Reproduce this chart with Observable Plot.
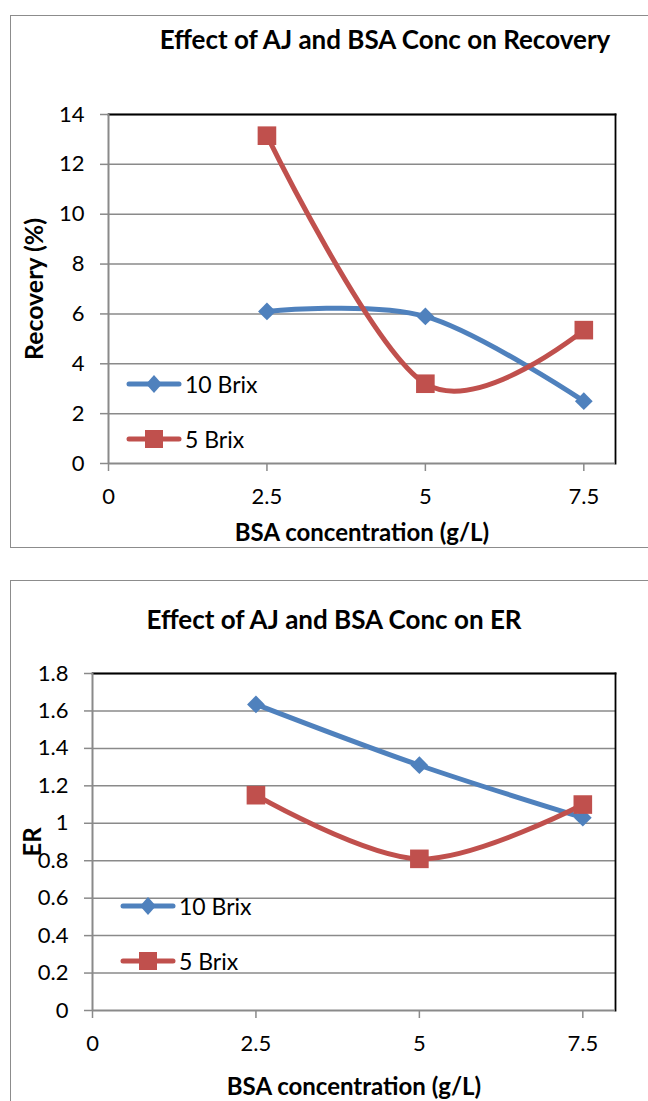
<!DOCTYPE html>
<html>
<head>
<meta charset="utf-8">
<script src="https://cdn.jsdelivr.net/npm/d3@7"></script>
<script src="https://cdn.jsdelivr.net/npm/@observablehq/plot@0.6"></script>
<style>
  html, body { margin: 0; padding: 0; background: #fff; }
  #root { position: relative; width: 648px; height: 1101px; overflow: hidden; font-family: Lato, "Open Sans", sans-serif; }
  .frame { position: absolute; border: 1.5px solid #8c8c8c; box-sizing: border-box; }
  .title { position: absolute; font-weight: bold; font-size: 26px; color: #000; white-space: nowrap; transform: translateX(-50%); line-height: 1; }
  .chart { position: absolute; left: 0; }
  .legend { position: absolute; font-size: 23px; color: #000; }
  .legend .row { position: absolute; left: 0; white-space: nowrap; display: flex; align-items: center; height: 24px; }
  .legend svg { display: block; }
</style>
</head>
<body>
<div id="root"></div>
<script>
// ---- data ----
const bsaConc = [2.5, 5, 7.5];
const seriesNames = ["10 Brix", "5 Brix"];
const recovery10Brix = [6.1, 5.9, 2.5];
const recovery5Brix = [13.15, 3.2, 5.35];
const er10Brix = [1.635, 1.31, 1.03];
const er5Brix = [1.15, 0.81, 1.1];
const xTicks = [0, 2.5, 5, 7.5];
const recoveryTicks = [0, 2, 4, 6, 8, 10, 12, 14];
const erTicks = [0, 0.2, 0.4, 0.6, 0.8, 1, 1.2, 1.4, 1.6, 1.8];
const colors = ["#4F81BD", "#C0504D"];
const symbols = ["diamond2", "square"];

const root = document.getElementById("root");

function toRows(a, b) {
  const rows = [];
  bsaConc.forEach((x, i) => rows.push({x, y: a[i], s: seriesNames[0]}));
  bsaConc.forEach((x, i) => rows.push({x, y: b[i], s: seriesNames[1]}));
  return rows;
}

function makeChart(cfg) {
  const rows = toRows(cfg.a, cfg.b);
  const W = 648;
  const fontFam = "Lato, 'Open Sans', sans-serif";
  const plot = Plot.plot({
    width: W,
    height: cfg.height,
    marginLeft: cfg.ml, marginRight: cfg.mr, marginTop: cfg.mt, marginBottom: cfg.mb,
    style: {fontFamily: fontFam, fontSize: "22px", color: "#000", background: "transparent", overflow: "visible"},
    x: {domain: [0, 8], ticks: xTicks},
    y: {domain: cfg.domain, ticks: cfg.ticks},
    color: {domain: seriesNames, range: colors},
    symbol: {domain: seriesNames, range: symbols},
    marks: [
      Plot.ruleY(cfg.ticks.filter(t => t > 0), {stroke: "#8a8a8a", strokeWidth: 1.5, strokeOpacity: 1}),
      Plot.frame({anchor: "top", stroke: "#000", strokeWidth: 1.8}),
      Plot.frame({anchor: "right", stroke: "#000", strokeWidth: 1.8}),
      Plot.axisY({ticks: cfg.ticks, tickSize: 8, tickPadding: 16, tickFormat: d => String(d), label: null, stroke: "#8a8a8a", strokeWidth: 1.5, fontSize: 22}),
      Plot.axisX({ticks: xTicks, tickSize: 8, tickPadding: 17, tickFormat: d => String(d), label: null, stroke: "#8a8a8a", strokeWidth: 1.5, fontSize: 22}),
      Plot.ruleX([0], {stroke: "#8a8a8a", strokeWidth: 2}),
      Plot.ruleY([cfg.domain[0]], {stroke: "#8a8a8a", strokeWidth: 2}),
      Plot.line(rows, {x: "x", y: "y", z: "s", stroke: "s", strokeWidth: 5, curve: "cardinal", tension: 0, strokeLinejoin: "round"}),
      Plot.dot(rows.filter(d => d.s === seriesNames[0]), {x: "x", y: "y", symbol: "s", fill: "s", r: 8, strokeWidth: 0}),
      Plot.dot(rows.filter(d => d.s === seriesNames[1]), {x: "x", y: "y", symbol: "s", fill: "s", r: 10.5, strokeWidth: 0}),
      Plot.text([cfg.ylabel], {frameAnchor: "left", textAnchor: "middle", dx: cfg.ylabelDx, rotate: -90, fontWeight: "bold", fontSize: 24, fill: "#000"}),
      Plot.text([cfg.xlabel], {frameAnchor: "bottom", dy: cfg.xlabelDy, fontWeight: "bold", fontSize: 24, fill: "#000"})
    ]
  });
  plot.classList.add("chart");
  plot.style.top = cfg.top + "px";
  plot.style.position = "absolute";
  // stretch the rotated y label along its length, like the reference
  if (cfg.ylabelLength) {
    plot.querySelectorAll("text").forEach(el => {
      if (el.textContent === cfg.ylabel) {
        el.setAttribute("textLength", cfg.ylabelLength);
        el.setAttribute("lengthAdjust", "spacingAndGlyphs");
      }
    });
  }

  // frame around chart
  const fr = document.createElement("div");
  fr.className = "frame";
  fr.style.left = "10px"; fr.style.top = cfg.frameTop + "px";
  fr.style.width = "700px"; fr.style.height = cfg.frameH + "px";
  root.appendChild(fr);
  root.appendChild(plot);

  // title
  const t = document.createElement("div");
  t.className = "title";
  t.textContent = cfg.title;
  t.style.left = cfg.titleX + "px";
  t.style.top = cfg.titleY + "px";
  root.appendChild(t);

  // legend
  const lg = document.createElement("div");
  lg.className = "legend";
  lg.style.left = cfg.legX + "px";
  lg.style.top = cfg.legY + "px";
  seriesNames.forEach((name, i) => {
    const row = document.createElement("div");
    row.className = "row";
    row.style.top = (i * cfg.legGap) + "px";
    const ns = "http://www.w3.org/2000/svg";
    const svg = document.createElementNS(ns, "svg");
    svg.setAttribute("width", 56); svg.setAttribute("height", 24);
    const ln = document.createElementNS(ns, "line");
    ln.setAttribute("x1", 3); ln.setAttribute("x2", 53); ln.setAttribute("y1", 12); ln.setAttribute("y2", 12);
    ln.setAttribute("stroke", colors[i]); ln.setAttribute("stroke-width", 5); ln.setAttribute("stroke-linecap", "round");
    svg.appendChild(ln);
    const m = document.createElementNS(ns, "path");
    const d = i === 0 ? "M28,3 L36,12 L28,21 L20,12 Z" : "M19,3 H37 V21 H19 Z";
    m.setAttribute("d", d); m.setAttribute("fill", colors[i]);
    svg.appendChild(m);
    row.appendChild(svg);
    const sp = document.createElement("span");
    sp.textContent = name;
    sp.style.marginLeft = "3px";
    row.appendChild(sp);
    lg.appendChild(row);
  });
  root.appendChild(lg);
}

makeChart({
  a: recovery10Brix, b: recovery5Brix,
  top: 0, height: 560, ml: 108, mr: 33, mt: 114, mb: 97,
  domain: [0, 14], ticks: recoveryTicks,
  ylabel: "Recovery (%)", ylabelDx: -73, ylabelLength: 142,
  xlabel: "BSA concentration (g/L)", xlabelDy: 77,
  title: "Effect of AJ and BSA Conc on Recovery", titleX: 385, titleY: 26,
  frameTop: 15, frameH: 533,
  legX: 126, legY: 372, legGap: 55
});

makeChart({
  a: er10Brix, b: er5Brix,
  top: 560, height: 541, ml: 92, mr: 33, mt: 113, mb: 91,
  domain: [0, 1.8], ticks: erTicks,
  ylabel: "ER", ylabelDx: -59, ylabelLength: 0,
  xlabel: "BSA concentration (g/L)", xlabelDy: 84,
  title: "Effect of AJ and BSA Conc on ER", titleX: 334, titleY: 606,
  frameTop: 580, frameH: 600,
  legX: 120, legY: 894, legGap: 55
});
</script>
</body>
</html>
